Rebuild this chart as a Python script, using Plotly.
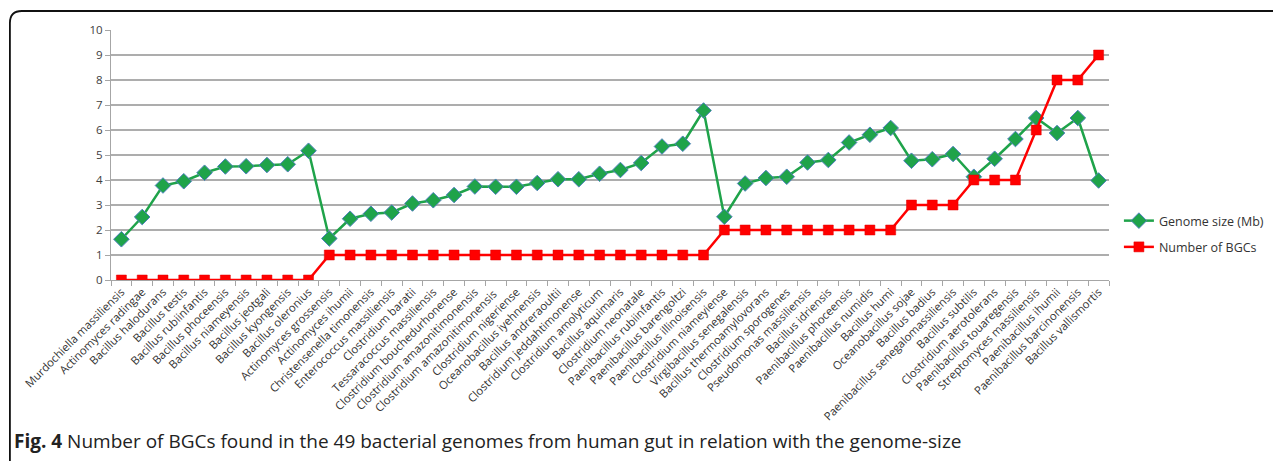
import plotly.graph_objects as go

species = [
    "Murdochiella massiliensis", "Actinomyces radingae", "Bacillus halodurans", "Bacillus testis",
    "Bacillus rubiinfantis", "Bacillus phoceensis", "Bacillus niameyensis", "Bacillus jeotgali",
    "Bacillus kyongensis", "Bacillus oleronius", "Actinomyces grossensis", "Actinomyces ihumii",
    "Christensenella timonensis", "Enterococcus massiliensis", "Clostridium baratii",
    "Tessaracoccus massiliensis", "Clostridium bouchedurhonense", "Clostridium amazonitimonensis",
    "Clostridium amazonitimonensis ", "Clostridium nigeriense", "Oceanobacillus iyehnensis",
    "Bacillus andreraoultii", "Clostridium jeddahtimonense", "Clostridium amolyticum",
    "Bacillus aquimaris", "Clostridium neonatale", "Paenibacillus rubiinfantis",
    "Paenibacillus barengoltzi", "Paenibacillus illinoisensis", "Clostridium niameyiense",
    "Virgibacillus senegalensis", "Bacillus thermoamylovorans", "Clostridium sporogenes",
    "Pseudomonas massiliensis", "Bacillus idriensis", "Paenibacillus phoceensis",
    "Paenibacillus numidis", "Bacillus humi", "Oceanobacillus sojae", "Bacillus badius",
    "Paenibacillus senegalomassiliensis", "Bacillus subtilis", "Clostridium aerotolerans",
    "Paenibacillus touaregensis", "Streptomyces massiliensis", "Paenibacillus ihumii",
    "Paenibacillus barcinonensis", "Bacillus vallismortis",
]

genome_size = [
    1.63, 2.52, 3.78, 3.95, 4.29, 4.54, 4.55, 4.60, 4.63, 5.17,
    1.66, 2.45, 2.65, 2.70, 3.06, 3.19, 3.40, 3.74, 3.73, 3.73,
    3.88, 4.03, 4.03, 4.25, 4.40, 4.68, 5.34, 5.45, 6.78, 2.53,
    3.86, 4.08, 4.13, 4.70, 4.80, 5.50, 5.81, 6.08, 4.77, 4.83,
    5.04, 4.13, 4.85, 5.64, 6.48, 5.88, 6.48, 3.98,
]

num_bgcs = [
    0, 0, 0, 0, 0, 0, 0, 0, 0, 0,
    1, 1, 1, 1, 1, 1, 1, 1, 1, 1,
    1, 1, 1, 1, 1, 1, 1, 1, 1, 2,
    2, 2, 2, 2, 2, 2, 2, 2, 3, 3,
    3, 4, 4, 4, 6, 8, 8, 9,
]

y_ticks = list(range(0, 11))

caption_bold = "Fig. 4"
caption_text = " Number of BGCs found in the 49 bacterial genomes from human gut in relation with the genome-size"

OFF = 8  # browser body margin
W, H = 1281 - OFF, 461 - OFF
L, R, T, B = 111 - OFF, 1118 - OFF, 30 - OFF, 280 - OFF

fig = go.Figure()
fig.add_trace(go.Scatter(
    x=species, y=genome_size, mode="lines+markers", name="Genome size (Mb)",
    legendgroup="g1",
    line=dict(color="#1FA34A", width=2.5),
    marker=dict(symbol="diamond", size=12, color="#1FA34A", line=dict(color="#4F81BD", width=1)),
))
fig.add_trace(go.Scatter(
    x=species, y=num_bgcs, mode="lines+markers", name="Number of BGCs",
    legendgroup="g2",
    line=dict(color="#FF0000", width=2.5),
    marker=dict(symbol="square", size=10, color="#FF0000", line=dict(color="#E00000", width=0.5)),
))

def px(xp):
    return (xp - OFF - L) / (R - L)

def py(yp):
    return (B - (yp - OFF)) / (B - T)

# Frame: top line and left line with rounded corner
x0, y0, rad = 9, 11, 12
path = (f"M {px(x0)},{py(H + 20)} L {px(x0)},{py(y0 + rad)} "
        f"Q {px(x0)},{py(y0)} {px(x0 + rad)},{py(y0)} L {px(W + 20)},{py(y0)}")
fig.add_shape(type="path", path=path, xref="paper", yref="paper",
              line=dict(color="#111111", width=1.8), layer="above")

fig.add_annotation(
    x=px(11), y=py(441), xref="paper", yref="paper", xanchor="left", yanchor="middle",
    text=f"<b>{caption_bold}</b>{caption_text}", showarrow=False,
    font=dict(family="Open Sans", size=19, color="#222222"),
)

fig.update_layout(
    width=W, height=H,
    margin=dict(l=L, r=W - R, t=T, b=H - B, pad=0),
    paper_bgcolor="white", plot_bgcolor="white",
    font=dict(family="Open Sans", color="#404040"),
    showlegend=True,
    legend=dict(
        x=px(1128), y=py(206), xanchor="left", yanchor="top",
        font=dict(family="Open Sans", size=12.5, color="#333333"),
        bgcolor="rgba(0,0,0,0)", tracegroupgap=7, borderwidth=0,
    ),
    xaxis=dict(
        type="category", range=[-0.5, len(species) - 0.5],
        tickangle=-45, tickfont=dict(family="Open Sans", size=11.3, color="#333333"),
        showgrid=False, showline=True, linecolor="#A6A6A6", linewidth=1,
        ticks="outside", ticklen=5, tickcolor="#A6A6A6", tickson="boundaries",
        zeroline=False, automargin=False,
    ),
    yaxis=dict(
        range=[0, 10], tickvals=y_ticks, ticktext=[str(v) for v in y_ticks],
        tickfont=dict(family="Open Sans", size=11.5, color="#404040"),
        showgrid=True, gridcolor="#ADADAD", gridwidth=1.5,
        showline=True, linecolor="#A6A6A6", linewidth=1,
        ticks="outside", ticklen=5, tickcolor="#A6A6A6",
        zeroline=False, automargin=False,
    ),
)

fig.write_html("out.html")
